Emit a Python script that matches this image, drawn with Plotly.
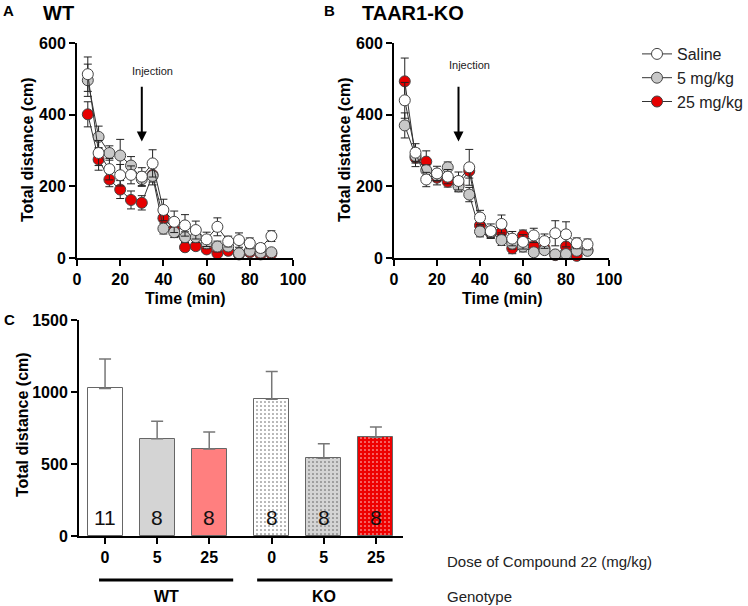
import plotly.graph_objects as go

W, H = 748, 606
def PX(x): return x / W
def PY(y): return 1 - y / H

FONT = "Arial, Liberation Sans, sans-serif"

# ---------- Data ----------
time_min = [5, 10, 15, 20, 25, 30, 35, 40, 45, 50, 55, 60, 65, 70, 75, 80, 85, 90]

wt_saline = [513, 293, 248, 231, 232, 227, 264, 134, 101, 91, 78, 52, 87, 46, 50, 41, 28, 61]
wt_saline_sem = [48, 35, 30, 30, 25, 25, 38, 30, 30, 30, 25, 20, 25, 15, 20, 15, 12, 15]
wt_5 = [496, 338, 293, 286, 258, 220, 229, 82, 72, 58, 58, 41, 32, 32, 13, 20, 15, 16]
wt_5_sem = [45, 30, 20, 45, 25, 20, 25, 15, 15, 15, 15, 15, 15, 10, 10, 10, 10, 10]
wt_25 = [401, 275, 219, 191, 162, 154, 232, 111, 80, 30, 33, 24, 13, 20, 10, 16, 10, 12]
wt_25_sem = [35, 30, 20, 25, 25, 20, 20, 20, 15, 10, 10, 8, 8, 8, 5, 8, 5, 5]

ko_saline = [440, 294, 219, 236, 227, 215, 253, 113, 75, 95, 54, 45, 63, 47, 69, 66, 41, 38]
ko_saline_sem = [50, 25, 20, 20, 20, 25, 50, 20, 20, 25, 20, 20, 20, 20, 35, 35, 15, 15]
ko_5 = [370, 285, 245, 230, 253, 200, 177, 74, 72, 50, 40, 32, 16, 22, 10, 11, 20, 20]
ko_5_sem = [35, 20, 15, 15, 15, 15, 20, 15, 15, 15, 15, 15, 10, 10, 5, 10, 10, 8]
ko_25 = [493, 280, 269, 224, 213, 205, 243, 91, 70, 72, 27, 63, 33, 27, 8, 32, 6, 22]
ko_25_sem = [65, 25, 30, 20, 15, 20, 20, 15, 15, 15, 15, 15, 10, 10, 5, 10, 5, 8]

series_names = ["Saline", "5 mg/kg", "25 mg/kg"]
series_colors = ["#ffffff", "#c8c8c8", "#e60000"]

bar_pos = [0, 1, 2, 3.2, 4.2, 5.2]
bar_dose_labels = ["0", "5", "25", "0", "5", "25"]
bar_vals = [1025, 675, 605, 950, 540, 685]
bar_sem = [205, 122, 118, 192, 100, 72]
bar_n = ["11", "8", "8", "8", "8", "8"]
bar_colors = ["#ffffff", "#d4d4d4", "#ff7f7f", "#ffffff", "#d4d4d4", "#ee0000"]
bar_patterns = ["", "", "", ".", ".", "."]

fig = go.Figure()

def add_panel(xa, ya, data, showlegend):
    # draw red first, then gray, white on top
    for idx in [2, 1, 0]:
        y, sem = data[idx]
        fig.add_trace(go.Scatter(
            x=time_min, y=y, xaxis=xa, yaxis=ya,
            mode="lines+markers", name=series_names[idx],
            legendrank=idx + 1, showlegend=showlegend,
            line=dict(color="#333333", width=1),
            marker=dict(symbol="circle", size=11, color=series_colors[idx],
                        line=dict(color="#444444", width=1)),
            error_y=dict(type="data", array=sem, color="#222222", thickness=1, width=4),
            cliponaxis=False,
        ))

add_panel("x", "y", [(wt_saline, wt_saline_sem), (wt_5, wt_5_sem), (wt_25, wt_25_sem)], True)
add_panel("x2", "y2", [(ko_saline, ko_saline_sem), (ko_5, ko_5_sem), (ko_25, ko_25_sem)], False)

fig.add_trace(go.Bar(
    x=bar_pos, y=bar_vals, xaxis="x3", yaxis="y3", width=0.67, showlegend=False,
    marker=dict(color=bar_colors, line=dict(color="#666666", width=1),
                pattern=dict(shape=bar_patterns, fillmode="overlay", fgcolor="#222222",
                             fgopacity=0.9, size=4, solidity=0.12)),
    error_y=dict(type="data", array=bar_sem, arrayminus=[0] * 6, symmetric=False,
                 color="#777777", thickness=1.5, width=6),
))

axis_common = dict(showline=True, linecolor="black", linewidth=2, ticks="outside",
                   ticklen=6, tickwidth=2, tickcolor="black", showgrid=False, zeroline=False,
                   automargin=False,
                   tickfont=dict(family=FONT, size=16, color="black", weight="bold"))

fig.update_layout(
    template="none",
    width=W, height=H, margin=dict(l=0, r=0, t=0, b=0, autoexpand=False),
    paper_bgcolor="white", plot_bgcolor="white",
    font=dict(family=FONT, color="black"),
    xaxis=dict(domain=[PX(77), PX(293)], anchor="y", range=[0, 100],
               tickvals=[0, 20, 40, 60, 80, 100], **axis_common),
    yaxis=dict(domain=[PY(258), PY(43)], anchor="x", range=[0, 600],
               tickvals=[0, 200, 400, 600], **axis_common),
    xaxis2=dict(domain=[PX(394), PX(609)], anchor="y2", range=[0, 100],
                tickvals=[0, 20, 40, 60, 80, 100], **axis_common),
    yaxis2=dict(domain=[PY(258), PY(43)], anchor="x2", range=[0, 600],
                tickvals=[0, 200, 400, 600], **axis_common),
    xaxis3=dict(domain=[PX(79), PX(403)], anchor="y3", range=[-0.5, 5.72],
                tickvals=bar_pos, ticktext=bar_dose_labels, **axis_common),
    yaxis3=dict(domain=[PY(536), PY(320)], anchor="x3", range=[0, 1500],
                tickvals=[0, 500, 1000, 1500], **axis_common),
    legend=dict(x=1, y=PY(37), xanchor="right", yanchor="top",
                font=dict(family=FONT, size=16, color="#222222"),
                bgcolor="rgba(0,0,0,0)", traceorder="normal", itemwidth=30),
    bargap=0,
)

ann = []
def text(x, y, s, size, bold=False, xanchor="center", yanchor="middle", angle=0, color="black"):
    ann.append(dict(x=PX(x), y=PY(y), xref="paper", yref="paper", text=s, showarrow=False,
                    xanchor=xanchor, yanchor=yanchor, textangle=angle,
                    font=dict(family=FONT, size=size, color=color,
                              weight="bold" if bold else "normal")))

text(1, 0, "A", 15, True, xanchor="left", yanchor="top")
text(41, 0, "WT", 20, True, xanchor="left", yanchor="top")
text(322, 0, "B", 15, True, xanchor="left", yanchor="top")
text(360, 0, "TAAR1-KO", 20, True, xanchor="left", yanchor="top")
text(2, 320, "C", 15, True, xanchor="left")

text(27, 150, "Total distance (cm)", 16, True, angle=-90)
text(344, 150, "Total distance (cm)", 16, True, angle=-90)
text(22, 425, "Total distance (cm)", 16, True, angle=-90)
text(185, 298, "Time (min)", 16, True)
text(502, 298, "Time (min)", 16, True)

text(445, 561, "Dose of Compound 22 (mg/kg)", 15, xanchor="left", color="#222222")
text(445, 596, "Genotype", 15, xanchor="left", color="#222222")

# injection arrows
for xa, ya, ty in [("x", "y", 522), ("x2", "y2", 540)]:
    ann.append(dict(x=30, y=325, xref=xa, yref=ya, ax=30, ay=482, axref=xa, ayref=ya,
                    text="", showarrow=True, arrowhead=2, arrowsize=1, arrowwidth=2,
                    arrowcolor="black"))
    ann.append(dict(x=35, y=ty, xref=xa, yref=ya, text="Injection", showarrow=False,
                    font=dict(family=FONT, size=11, color="#222222")))

# bar n labels
for p, n in zip(bar_pos, bar_n):
    ann.append(dict(x=p, y=130, xref="x3", yref="y3", text=n, showarrow=False,
                    font=dict(family=FONT, size=21, color="#111111")))

# genotype labels
for cx, s in [(166, "WT"), (324, "KO")]:
    text(cx, 596, s, 16, True)

fig.update_layout(annotations=ann)

# genotype underline bars
for x0, x1 in [(-0.115, 2.46), (2.92, 5.52)]:
    fig.add_shape(type="line", xref="x3", yref="paper", x0=x0, x1=x1,
                  y0=PY(580), y1=PY(580), line=dict(color="black", width=3))

fig.write_html("out.html", config={"displayModeBar": False},
               post_script="document.body.style.margin='0px';document.body.style.padding='0px';")
